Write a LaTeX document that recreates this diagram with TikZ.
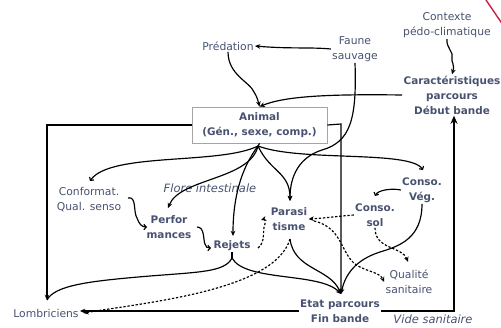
\documentclass[tikz,border=0pt]{standalone}
\usepackage{fontspec}
\setmainfont{DejaVu Sans}
\usetikzlibrary{arrows.meta}
\definecolor{txt}{RGB}{72,82,112}
\definecolor{boxc}{RGB}{165,165,165}
\definecolor{redl}{RGB}{205,30,70}
\begin{document}
\begin{tikzpicture}[x=0.03cm,y=-0.03cm,
  lbl/.style={text=txt,font=\fontsize{9.2}{12.8}\selectfont,align=center,inner sep=1pt},
  blbl/.style={lbl,font=\fontsize{8.9}{12.8}\selectfont\bfseries},
  ilbl/.style={lbl,font=\fontsize{9.8}{12.8}\selectfont\itshape},
  conn/.style={line width=1pt,-{Stealth[length=4.5pt,width=4pt]}},
  tconn/.style={line width=1pt,-{Straight Barb[length=2pt,width=4.5pt]}},
  dconn/.style={conn,dash pattern=on 2pt off 1.5pt},
  plain/.style={line width=1pt},
  thick/.style={line width=2pt},
]
\useasboundingbox (0,0) rectangle (501,327);
% nodes
\node[lbl] (pred) at (228,46) {Prédation};
\node[lbl] (faune) at (355,49) {Faune\\sauvage};
\node[lbl] (ctx) at (447,25) {Contexte\\pédo-climatique};
\node[blbl] (car) at (452,95) {Caractéristiques\\parcours\\Début bande};
\node[blbl,draw=boxc,line width=0.6pt,minimum width=4.05cm,minimum height=1.08cm] (animal) at (259.5,125) {Animal\\(Gén., sexe, comp.)};
\node[lbl] (conf) at (89,200) {Conformat.\\Qual. senso};
\node[ilbl] (flore) at (210,188) {Flore intestinale};
\node[blbl] (perf) at (169,227) {Perfor\\mances};
\node[blbl] (rej) at (232,246) {Rejets};
\node[blbl] (para) at (289,219) {Parasi\\tisme};
\node[blbl] (cveg) at (422,190) {Conso.\\Vég.};
\node[blbl] (csol) at (375,215) {Conso.\\sol};
\node[lbl] (qual) at (409,282) {Qualité\\sanitaire};
\node[blbl] (etat) at (340,311) {Etat parcours\\Fin bande};
\node[lbl] (lomb) at (46,313) {Lombriciens};
\node[ilbl] (vide) at (433,319) {Vide sanitaire};
% coordinates
\coordinate (ab) at (258,146);
\coordinate (ein) at (341,294);
\coordinate (rb) at (232,258);
\coordinate (pb) at (290,239);
\coordinate (lin) at (47,300);
\coordinate (vs) at (454,311);
% red stroke
\draw[redl,line width=1.2pt] (486,0) -- (503,25);
% top
\draw[conn] (faune.west) .. controls (310,47) and (290,49) .. (pred.east);
\draw[conn] (pred.south) .. controls (228,75) and (250,82) .. (254,92) .. controls (257,97) and (258,100) .. (animal.north);
\draw[conn] (car.west) .. controls (330,94) and (285,96) .. (animal.north);
\draw[conn] (ctx.south) .. controls (446,48) and (454,52) .. (452,58) .. controls (451,62) and (455,64) .. (car.north);
% frame
\draw[conn] (animal.west) -| (lin);
\draw[conn] (animal.east) -- (341,124) -- (ein);
\draw[conn] (etat.west) -- (etat.west -| lomb.east);
\draw[thick,-{Stealth[length=7pt,width=6pt]}] (etat.east) -- (vs) -- (vs |- car.south);
% fan from animal
\draw[plain] (animal.south) -- (ab);
\draw[tconn] (ab) .. controls (220,165) and (110,152) .. (90,181);
\draw[conn] (ab) .. controls (250,180) and (180,178) .. (168,208);
\draw[conn] (ab) .. controls (240,170) and (233,200) .. (233,236);
\draw[conn] (ab) .. controls (270,172) and (290,172) .. (290,201);
\draw[tconn] (ab) .. controls (300,162) and (410,150) .. (423,170);
\draw[conn] (faune.south) .. controls (357,120) and (350,142) .. (322,150) .. controls (300,157) and (290,175) .. (290,201);
% braces
\draw[tconn] (128,198) .. controls (137,196) and (133,212) .. (137,218) .. controls (139,224) and (142,227) .. (147,227);
\draw[tconn] (197,227) .. controls (205,227) and (203,240) .. (205,244) .. controls (206,247) and (207,248) .. (211,248);
\draw[dconn] (258,248) .. controls (266,242) and (262,230) .. (265,224) .. controls (266,220) and (264,219) .. (261,220);
% from Rejets and Parasitisme
\draw[plain] (rej.south) -- (rb);
\draw[plain] (rb) .. controls (225,272) and (200,272) .. (150,276) .. controls (90,281) and (55,285) .. (lin);
\draw[conn] (rb) .. controls (245,282) and (320,272) .. (ein);
\draw[conn] (pb) .. controls (294,270) and (330,268) .. (ein);
\draw[dconn] (pb) .. controls (275,290) and (150,302) .. ([xshift=3pt]lomb.east);
% right side
\draw[conn] (cveg.south) .. controls (422,238) and (400,246) .. (380,252) .. controls (355,260) and (345,275) .. (ein);
\draw[tconn] (cveg.west) .. controls (392,188) and (378,190) .. (375,196);
\draw[dconn] (csol.west) .. controls (340,216) and (326,218) .. (para.east);
\draw[dconn] (314,221) .. controls (345,228) and (340,258) .. (360,267) .. controls (370,272) and (380,273) .. (qual.west);
\draw[dconn] (csol.south) .. controls (375,250) and (402,246) .. (408,262);
\end{tikzpicture}
\end{document}
